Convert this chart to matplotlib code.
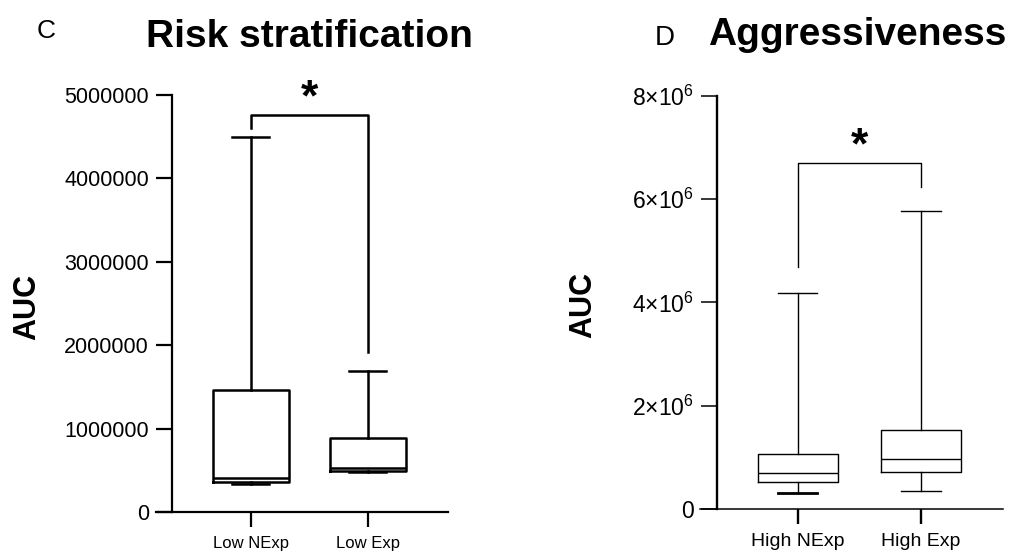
import matplotlib
matplotlib.use("Agg")
import matplotlib.pyplot as plt
from matplotlib.ticker import FuncFormatter

plt.rcParams['font.family'] = ['Liberation Sans', 'DejaVu Sans']
plt.rcParams['mathtext.fontset'] = 'custom'
plt.rcParams['mathtext.rm'] = 'Liberation Sans'
plt.rcParams['mathtext.it'] = 'Liberation Sans'

# --- C: Risk stratification ---
risk_groups = ["Low NExp", "Low Exp"]
risk_whislo = [338000, 489000]
risk_q1 = [369000, 500000]
risk_med = [410000, 529000]
risk_q3 = [1467000, 889000]
risk_whishi = [4500000, 1698000]
risk_bracket = [4610000, 4760000, 1926000]   # left leg end, top, right leg end

# --- D: Aggressiveness ---
aggr_groups = ["High NExp", "High Exp"]
aggr_whislo = [310000, 348000]
aggr_q1 = [517000, 710000]
aggr_med = [690000, 968000]
aggr_q3 = [1065000, 1535000]
aggr_whishi = [4190000, 5760000]
aggr_bracket = [4690000, 6700000, 6240000]

fig = plt.figure(figsize=(10.23, 5.51), dpi=100)


def panel(rect, spine_frac, xlim, ymax, groups, lo, q1, med, q3, hi, bracket,
          lw, ylw, xlw, xfs, yfs):
    ax = fig.add_axes(rect)
    stats = [dict(whislo=a, q1=b, med=c, q3=d, whishi=e, label=g)
             for a, b, c, d, e, g in zip(lo, q1, med, q3, hi, groups)]
    props = dict(color='black', linewidth=lw)
    res = ax.bxp(stats, positions=[1, 2], widths=0.65, capwidths=0.32,
                 showfliers=False, boxprops=props, whiskerprops=props,
                 capprops=props, medianprops=props)
    ax.set_xlim(*xlim)
    ax.set_ylim(0, ymax)
    for s in ['top', 'right']:
        ax.spines[s].set_visible(False)
    ax.spines['left'].set_position(('axes', spine_frac))
    ax.spines['left'].set_linewidth(ylw)
    ax.spines['bottom'].set_linewidth(xlw)
    ax.tick_params(axis='y', length=11.5, width=xlw, labelsize=yfs, pad=5)
    ax.tick_params(axis='x', length=11, width=ylw, labelsize=xfs, pad=6)
    # significance bracket
    ax.plot([1, 1, 2, 2], [bracket[0], bracket[1], bracket[1], bracket[2]],
            color='black', linewidth=lw, clip_on=False)
    ax.annotate('*', xy=(1.5, bracket[1]), xytext=(0, -3),
                textcoords='offset points', ha='center', va='bottom',
                fontsize=32, fontweight='bold', annotation_clip=False)
    return ax, res


axC, resC = panel([0.1525, 0.0699, 0.2854, 0.7577], 16 / 292, (0.191, 2.686),
                  5000000, risk_groups, risk_whislo, risk_q1, risk_med, risk_q3,
                  risk_whishi, risk_bracket, 1.8, 1.6, 1.6, 12, 15.5)
axC.set_yticks([0, 1000000, 2000000, 3000000, 4000000, 5000000])
axC.yaxis.set_major_formatter(FuncFormatter(lambda v, p: f"{v:.0f}"))
axC.set_ylabel("AUC", fontsize=22, fontweight='bold')
axC.yaxis.set_label_coords((42 - 156) / 292, (512.5 - 307) / 417.5)

axD, resD = panel([0.6843, 0.0762, 0.2962, 0.7501], 16.5 / 303, (0.208, 2.665),
                  8000000, aggr_groups, aggr_whislo, aggr_q1, aggr_med, aggr_q3,
                  aggr_whishi, aggr_bracket, 1.0, 1.7, 1.1, 14, 16.5)
resD['caps'][0].set_linewidth(2.0)
axD.set_yticks([0, 2000000, 4000000, 6000000, 8000000])
axD.yaxis.set_major_formatter(FuncFormatter(
    lambda v, p: "0" if v == 0 else f"{v / 1e6:.0f}×10" + r"$^{6}$"))
axD.set_ylabel("AUC", fontsize=22, fontweight='bold')
axD.yaxis.set_label_coords((598 - 700) / 303, (509 - 305) / 413.3)

fig.text(0.045, 0.931, "C", fontsize=19, ha='center', va='baseline')
fig.text(0.302, 0.9147, "Risk stratification", fontsize=28, fontweight='bold',
         ha='center', va='baseline')
fig.text(0.6495, 0.918, "D", fontsize=20, ha='center', va='baseline')
fig.text(0.8377, 0.918, "Aggressiveness", fontsize=28, fontweight='bold',
         ha='center', va='baseline')

fig.savefig("out.png", dpi=100, facecolor='white')
